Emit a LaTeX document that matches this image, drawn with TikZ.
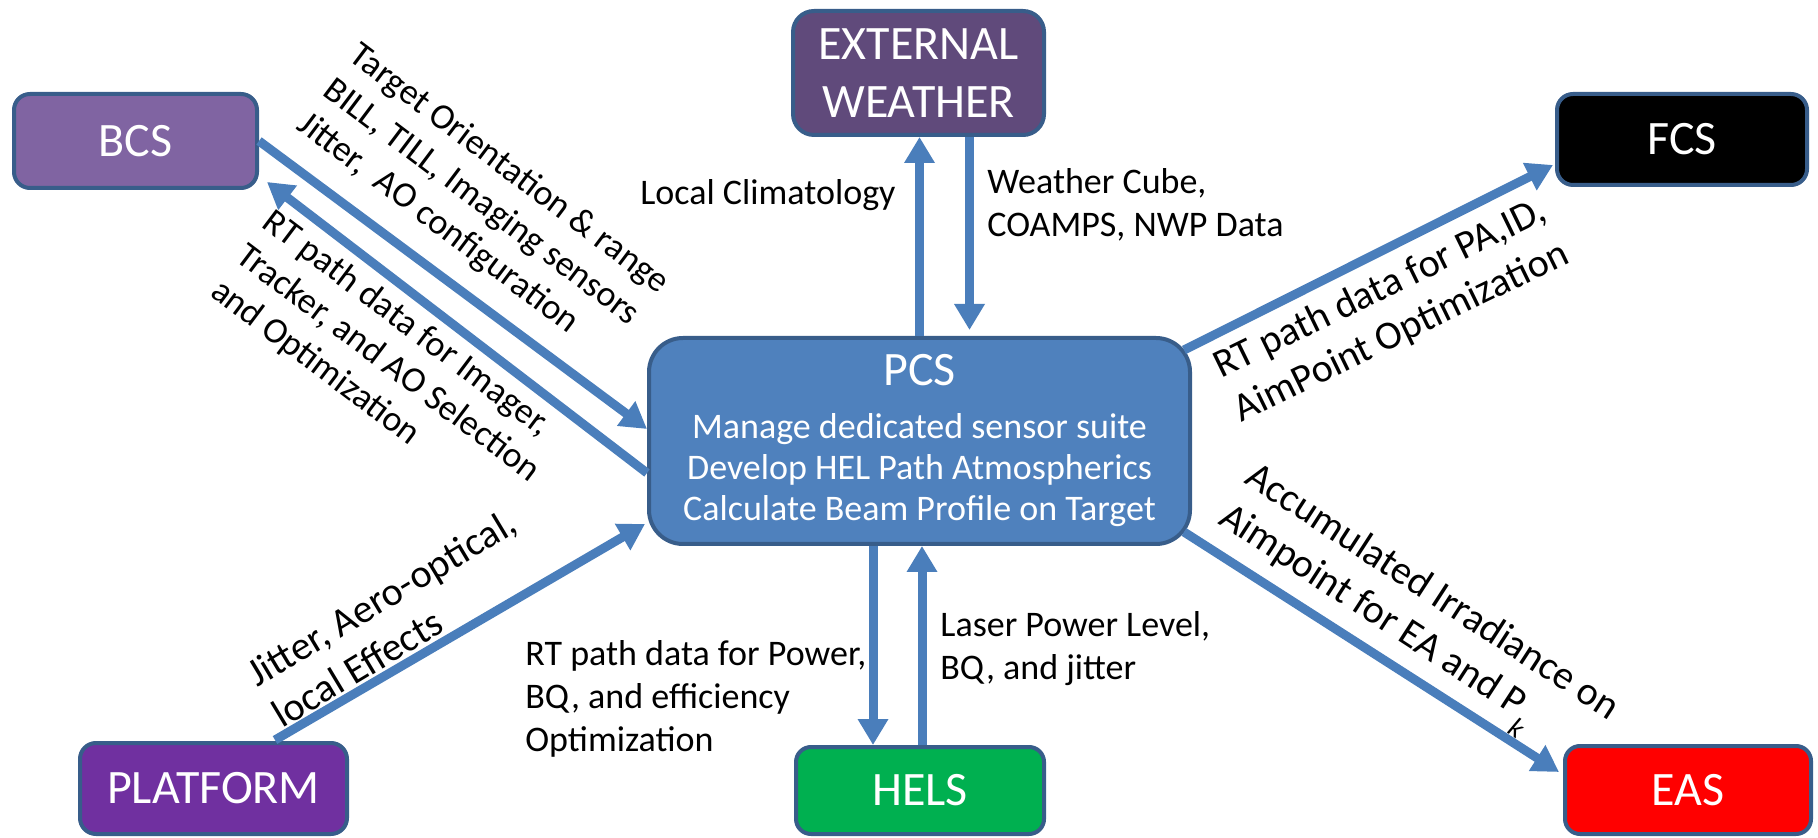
\documentclass[tikz,border=0pt]{standalone}
\usepackage{fontspec}
\setmainfont{Carlito}
\usetikzlibrary{arrows.meta,calc}
\definecolor{flowblue}{HTML}{4A7EBB}
\definecolor{edgeblue}{HTML}{385D8A}
\definecolor{bcsfill}{HTML}{8064A2}
\definecolor{wxfill}{HTML}{604A7B}
\definecolor{pcsfill}{HTML}{4F81BD}
\definecolor{platfill}{HTML}{7030A0}
\definecolor{helsfill}{HTML}{00B050}
\definecolor{easfill}{HTML}{FF0000}
\begin{document}
\begin{tikzpicture}[x=0.5pt,y=-0.5pt,
  box/.style={draw=edgeblue, line width=2pt, rounded corners=8pt, text=white,
    font=\fontsize{24}{29}\selectfont, align=center, inner sep=0pt},
  flow/.style={draw=flowblue, line width=4.5pt,
    -{Triangle[width=14.5pt,length=13pt]}},
  lbl/.style={font=\fontsize{18}{21.5}\selectfont, align=left, inner sep=0pt},
  biglbl/.style={font=\fontsize{20}{24}\selectfont, align=left, inner sep=0pt}]
\useasboundingbox (0,0) rectangle (1818,838);

% subsystem boxes
\node[box, fill=bcsfill, minimum width=121.5pt, minimum height=47pt] (bcs) at (135.5,141) {BCS};
\node[box, fill=wxfill, minimum width=125.5pt, minimum height=62pt, rounded corners=10.5pt] (ew) at (918.5,73) {EXTERNAL\\WEATHER};
\node[box, fill=black, minimum width=125pt, minimum height=45.5pt] (fcs) at (1682,139.5) {FCS};
\node[box, fill=pcsfill, minimum width=270.5pt, minimum height=103pt, rounded corners=17pt,
      font=\fontsize{18}{20.5}\selectfont] (pcs) at (919.5,441)
  {{\fontsize{24}{29}\selectfont PCS}\\[6pt]
   Manage dedicated sensor suite\\
   Develop HEL Path Atmospherics\\
   Calculate Beam Profile on Target};
\node[box, fill=platfill, minimum width=133.5pt, minimum height=45.5pt] (plat) at (213.5,788.5) {PLATFORM};
\node[box, fill=helsfill, minimum width=124pt, minimum height=43.5pt, rounded corners=7.5pt] (hels) at (920,790.5) {HELS};
\node[box, fill=easfill, minimum width=123pt, minimum height=44pt, rounded corners=7.5pt] (eas) at (1688,790) {EAS};

% data flows
\draw[flow] (bcs.east) -- ($(pcs.west)+(0,-12)$);
\draw[flow] ($(pcs.west)+(0,32)$) -- ($(bcs.south east)+(8,-8)$);
\draw[flow] (pcs.north) coordinate (up1) -- (up1 |- ew.south);
\draw[flow] ($(ew.south)+(51,0)$) coordinate (dn1) -- ($(dn1 |- pcs.north)+(0,-6)$);
\draw[flow] ($(pcs.north east)+(-8,14)$) -- ($(fcs.south west)+(-2,-22)$);
\draw[flow] ($(pcs.south east)+(-8,-14)$) -- ($(eas.north west)+(-4,28)$);
\draw[flow] ($(plat.north east)+(-74,-1)$) -- ($(pcs.south west)+(-2,-22)$);
\draw[flow] ($(pcs.south)+(-46.5,0)$) coordinate (dn2) -- (dn2 |- hels.north);
\draw[flow] ($(hels.north)+(2,0)$) coordinate (up2) -- (up2 |- pcs.south);

% flow labels
\node[lbl, rotate=-37] (lbcsin) at (483,204)
  {Target Orientation \& range\\BILL, TILL, Imaging sensors\\Jitter,\ \ AO configuration};
\node[lbl, rotate=-37] (lbcsout) at (388,364)
  {RT path data for Imager,\\Tracker, and AO Selection\\and Optimization};
\node[lbl, anchor=east] (lclim) at (896,195) {Local Climatology};
\node[lbl, anchor=west] (lwx) at (987,204.5) {Weather Cube,\\COAMPS, NWP Data};
\node[biglbl, rotate=26, align=center] (lfcs) at (1391,311)
  {RT path data for PA,ID,\\AimPoint Optimization};
\node[biglbl, rotate=-33] (leas) at (1419,613)
  {Accumulated Irradiance on\\Aimpoint for EA and P\raisebox{-0.45em}[0pt][0pt]{\fontsize{14}{14}\selectfont\itshape k}};
\node[biglbl, rotate=31] (lplat) at (394,618) {Jitter, Aero-optical,\\local Effects};
\node[lbl, anchor=west] (lhelsin) at (525,699)
  {RT path data for Power,\\BQ, and efficiency\\Optimization};
\node[lbl, anchor=west] (lhelsout) at (940,649) {Laser Power Level,\\BQ, and jitter};
\end{tikzpicture}
\end{document}
